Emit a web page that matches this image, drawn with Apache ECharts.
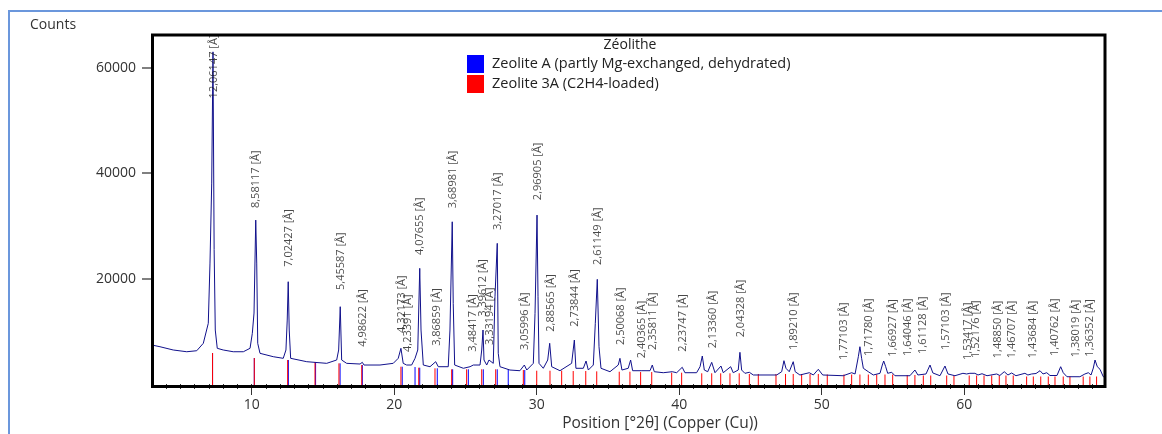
<!DOCTYPE html>
<html><head><meta charset="utf-8">
<script src="https://cdn.jsdelivr.net/npm/echarts@6/dist/echarts.min.js"></script>
<style>html,body{margin:0;padding:0;background:#fff}#c{width:1162px;height:434px}</style>
</head><body><div id="c"></div>
<script>
// Measured scan: position [°2θ] and counts
const scan2Theta = [3.0,3.56,4.49,5.44,6.14,6.6,6.95,7.07,7.19,7.28,7.36,7.44,7.58,8.0,8.7,9.41,9.88,10.04,10.16,10.28,10.35,10.42,10.58,11.51,12.21,12.4,12.49,12.56,12.63,12.73,13.86,15.26,15.96,16.1,16.21,16.31,16.66,17.6,17.76,17.88,19.0,19.93,20.28,20.47,20.63,20.87,20.99,21.22,21.46,21.65,21.79,21.88,22.04,22.51,22.91,23.09,23.79,23.91,24.07,24.14,24.24,24.85,25.32,25.55,26.02,26.14,26.23,26.3,26.49,26.65,26.77,26.95,27.07,27.23,27.3,27.42,28.12,28.82,29.13,29.3,29.76,29.88,30.02,30.09,30.16,30.46,30.77,30.91,31.05,31.63,32.45,32.64,32.75,33.27,33.46,33.62,33.97,34.11,34.25,34.37,34.51,35.14,35.72,35.84,35.98,36.42,36.59,36.73,37.38,37.95,38.11,38.25,38.88,39.51,39.82,40.21,40.4,41.22,41.46,41.62,41.76,42.0,42.28,42.51,42.93,43.09,43.61,43.79,44.14,44.26,44.38,44.61,44.92,45.2,46.84,47.19,47.35,47.49,47.72,48.0,48.14,48.47,49.13,49.41,49.76,50.07,51.51,52.1,52.34,52.45,52.57,52.68,52.8,52.92,53.27,53.62,54.09,54.25,54.35,54.49,54.63,54.91,55.14,56.19,56.54,56.75,57.32,57.6,57.8,58.3,58.65,58.86,59.35,59.91,60.17,60.4,60.75,60.97,61.25,61.6,62.28,62.5,62.81,63.07,63.33,63.63,64.26,64.47,64.73,65.04,65.32,65.53,65.79,66.02,66.51,66.77,66.95,67.21,68.12,68.47,68.71,68.9,69.06,69.18,69.34,69.53,69.76,69.88];
const scanCounts = [7390,7070,6450,6120,6310,7720,11510,22940,38110,63000,25500,10240,6770,6450,6120,6120,6770,9610,13460,31090,22940,7720,5820,5180,4870,6450,12130,19400,10240,4870,4230,3920,4550,6450,14660,4550,3920,3790,4110,3600,3600,3920,4870,6770,3920,3600,3920,3600,4870,6450,21940,10240,3600,3280,4230,3280,3280,10240,30770,15300,3600,2980,3280,3600,3600,6450,10240,4550,3600,4550,4230,3920,16550,26680,5820,3280,2650,2520,3600,2650,3920,13400,32040,16550,3920,2980,4550,7720,3280,2520,3920,8340,2980,2980,4360,2650,3600,11510,19850,7070,2980,2330,3600,4870,2650,2980,4550,2520,2520,2520,3600,2330,2140,2330,2140,3170,2140,2140,3280,5310,2650,2330,4110,2140,3410,2140,3280,2140,2650,6010,2650,2030,2220,1710,1710,2330,4420,2980,2330,4230,2330,1710,2140,1710,2790,1710,1570,2140,1900,2030,5180,7070,4870,2980,2330,1710,2030,3600,4360,3280,2030,2220,1570,1570,2650,1710,1900,3600,2090,1570,3410,1900,1570,2030,1900,2030,2030,1710,1950,1570,1900,1610,2330,1710,2090,1570,2030,1710,1900,1990,2520,1900,2140,1610,1610,3280,2140,1380,1380,1900,2140,1710,3030,4550,3280,2790,1380,1330];

// Reference pattern: Zeolite A (blue sticks)
const zeoliteA2Theta = [7.25,10.18,12.57,14.48,16.2,17.76,20.56,21.46,21.79,23.02,24.1,25.2,26.25,27.23,28.0,29.16];
const zeoliteAHeight = [5880,4930,4550,4170,3920,3600,3280,3220,3090,2980,2790,2790,2790,2790,2790,2650];

// Reference pattern: Zeolite 3A (red sticks)
const zeolite3A2Theta = [7.25,10.18,12.52,14.44,16.12,17.72,20.47,21.72,22.86,24.03,25.08,26.14,27.12,29.06,30.0,30.93,31.75,32.56,33.44,34.21,35.79,36.54,37.29,38.07,39.47,40.17,41.58,42.28,42.91,43.56,44.21,44.92,45.55,46.79,47.46,48.0,48.59,49.18,49.76,50.39,51.56,52.1,52.68,53.27,53.86,54.44,54.98,56.0,56.54,57.13,57.65,58.77,59.28,60.35,60.87,61.39,61.93,62.46,62.93,63.44,64.38,64.85,65.37,65.9,66.37,66.95,67.42,68.35,68.82,69.29];
const zeolite3AHeight = [5880,4930,4550,4170,3920,3600,3280,3090,2980,2790,2790,2790,2790,2650,2520,2520,2520,2460,2460,2400,2330,2330,2270,2270,2140,2140,2030,2030,2030,2030,2030,1900,1900,1900,1900,1900,1900,1900,1900,1800,1800,1800,1800,1800,1800,1800,1800,1710,1710,1610,1610,1610,1610,1610,1610,1610,1610,1610,1610,1610,1420,1420,1420,1420,1420,1420,1420,1420,1420,1420];

// Peak labels: d-spacing [Å], position [°2θ], peak counts
const peakD = ['12,06147','8,58117','7,02427','5,45587','4,98622','4,32173','4,23391','4,07655','3,86859','3,68981','3,48417','3,39612','3,33194','3,27017','3,05996','2,96905','2,88565','2,73844','2,61149','2,50068','2,40365','2,35811','2,23747','2,13360','2,04328','1,89210','1,77103','1,71780','1,66927','1,64046','1,61128','1,57103','1,53417','1,52176','1,48850','1,46707','1,43684','1,40762','1,38019','1,36352'];
const peak2Theta = [7.323,10.300,12.591,16.233,17.774,20.535,20.966,21.784,22.970,24.100,25.546,26.220,26.735,27.249,29.161,30.074,30.965,32.674,34.310,35.881,37.383,38.134,40.276,42.328,44.296,48.048,51.563,53.287,54.965,56.016,57.116,58.726,60.279,60.821,62.330,63.343,64.835,66.355,67.853,68.798];
const peakCounts = [63000,30900,19780,15360,4610,7200,3600,22000,4760,30850,3660,10300,4930,26730,3980,32400,7450,8400,20100,4930,2410,3980,3660,4300,6390,3980,2090,2840,2710,2840,3220,3980,2090,2460,2410,2410,2410,2840,2600,2710];

const xMajorTicks = [10,20,30,40,50,60];
const xMinorTicks = [4,5,6,7,8,9,11,12,13,14,15,16,17,18,19,21,22,23,24,25,26,27,28,29,31,32,33,34,35,36,37,38,39,41,42,43,44,45,46,47,48,49,51,52,53,54,55,56,57,58,59,61,62,63,64,65,66,67,68,69];
const yTicks = [20000,40000,60000];

const legendA = 'Zeolite A (partly Mg-exchanged, dehydrated)';
const legend3A = 'Zeolite 3A (C2H4-loaded)';

const FONT = '"Open Sans", "Noto Sans", sans-serif';
const chart = echarts.init(document.getElementById('c'), null, {renderer: 'canvas'});

function stickSeries(name, pos, h, color, z) {
  return {
    type: 'custom', name: name, silent: true, z: z,
    itemStyle: {color: color},
    data: pos.map((p, i) => [p, h[i]]),
    renderItem: function (params, api) {
      const top = api.coord([api.value(0), api.value(1)]);
      const base = api.coord([api.value(0), 0]);
      return {type: 'line', shape: {x1: top[0], y1: top[1], x2: top[0], y2: base[1] + 2},
              style: {stroke: color, lineWidth: 1}};
    }
  };
}

const option = {
  animation: false,
  backgroundColor: '#ffffff',
  textStyle: {fontFamily: FONT},
  grid: {left: 152, right: 57, top: 35, bottom: 50, containLabel: false},
  legend: {
    orient: 'vertical', left: 467, top: 55, padding: 0, itemWidth: 17, itemHeight: 18, itemGap: 2,
    icon: 'rect', selectedMode: false,
    textStyle: {fontSize: 14.5, color: '#222', fontFamily: FONT, padding: [0, 0, 0, 3]},
    data: [legendA, legend3A]
  },
  xAxis: [{
    type: 'value', min: 3, max: 69.88, position: 'bottom',
    axisLine: {show: false}, splitLine: {show: false},
    axisTick: {show: true, customValues: xMinorTicks, length: 5, lineStyle: {color: '#333', width: 1}},
    axisLabel: {show: false}
  }, {
    type: 'value', min: 3, max: 69.88, position: 'bottom', gridIndex: 0,
    axisLine: {show: false}, splitLine: {show: false},
    axisTick: {show: true, customValues: xMajorTicks, length: 11, lineStyle: {color: '#333', width: 1}},
    axisLabel: {show: true, customValues: xMajorTicks, margin: 14, fontSize: 14, color: '#333', fontFamily: FONT}
  }],
  yAxis: {
    type: 'value', min: 0, max: 66200,
    axisLine: {show: false}, splitLine: {show: false},
    axisTick: {show: true, customValues: yTicks, length: 10, lineStyle: {color: '#808080', width: 2}},
    axisLabel: {show: true, customValues: yTicks, margin: 16, fontSize: 14, color: '#333', fontFamily: FONT,
                formatter: function (v) { return String(v); }}
  },
  series: [
    stickSeries(legendA, zeoliteA2Theta, zeoliteAHeight, '#0000ff', 2),
    stickSeries(legend3A, zeolite3A2Theta, zeolite3AHeight, '#ff0000', 3),
    {
      type: 'line', name: 'scan', data: scan2Theta.map((x, i) => [x, scanCounts[i]]),
      showSymbol: false, symbol: 'none', z: 4, silent: true,
      lineStyle: {color: '#11118c', width: 1}
    },
    {
      type: 'scatter', name: 'labels', silent: true, z: 5, symbolSize: 0.1,
      itemStyle: {color: 'rgba(0,0,0,0)'},
      data: peak2Theta.map((x, i) => ({
        value: [x, Math.min(peakCounts[i], 51700)],
        label: {formatter: peakD[i] + ' [Å]'}
      })),
      label: {show: true, position: 'top', distance: 13, rotate: 90, align: 'left', verticalAlign: 'middle',
              fontSize: 11, color: '#1a1a1a', fontFamily: FONT}
    }
  ],
  graphic: [
    {type: 'rect', silent: true, z: 0, shape: {x: 9, y: 11, width: 1300, height: 600},
     style: {fill: 'none', stroke: '#6b97dc', lineWidth: 2}},
    {type: 'rect', silent: true, z: 10, shape: {x: 152.5, y: 35, width: 952.5, height: 351.5},
     style: {fill: 'none', stroke: '#000', lineWidth: 3}},
    {type: 'text', silent: true, x: 30, y: 25, style: {text: 'Counts', font: '14px ' + FONT, fill: '#333', textVerticalAlign: 'middle'}},
    {type: 'text', silent: true, x: 630, y: 45, style: {text: 'Zéolithe', font: '14px ' + FONT, fill: '#222', textAlign: 'center', textVerticalAlign: 'middle'}},
    {type: 'text', silent: true, x: 660, y: 424, style: {text: 'Position [°2θ] (Copper (Cu))', font: '15.5px ' + FONT, fill: '#333', textAlign: 'center', textVerticalAlign: 'middle'}}
  ]
};
chart.setOption(option);
</script>
</body></html>
